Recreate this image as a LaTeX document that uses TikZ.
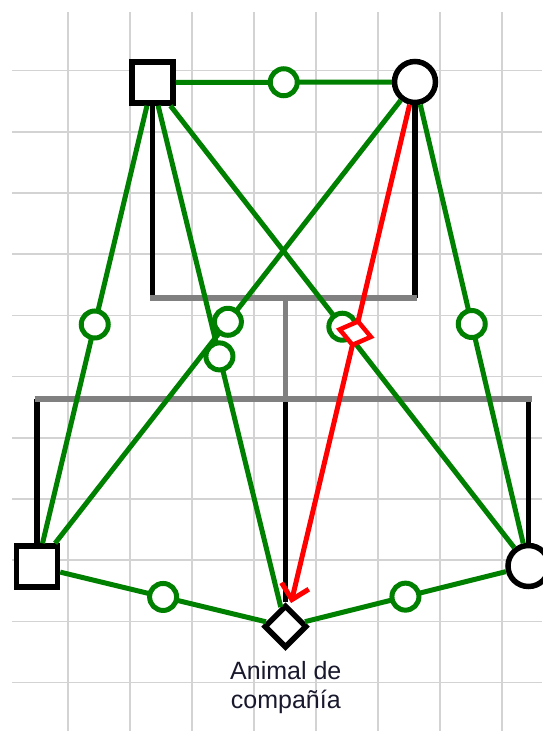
\documentclass[tikz,border=0pt]{standalone}
\usepackage{fontspec}
\setmainfont{Liberation Sans}
\usetikzlibrary{shapes.geometric,arrows.meta}
\definecolor{gline}{RGB}{0,128,0}
\definecolor{gridc}{RGB}{211,211,211}
\definecolor{famgray}{RGB}{128,128,128}
\definecolor{txtc}{RGB}{25,25,45}
\begin{document}
\begin{tikzpicture}[x=1pt,y=-1pt,
  male/.style={rectangle,draw=black,line width=5.5pt,fill=white,minimum size=41pt,inner sep=0pt},
  female/.style={circle,draw=black,line width=5.5pt,fill=white,minimum size=41pt,inner sep=0pt},
  pet/.style={diamond,draw=black,line width=5.5pt,fill=white,minimum size=43pt,inner sep=0pt},
  famline/.style={line width=5.5pt,black},
  sibline/.style={line width=5.5pt,famgray},
  emo/.style={line width=5pt,gline},
  emomark/.style={circle,draw=gline,line width=5pt,fill=white,minimum size=27pt,inner sep=0pt},
  hostile/.style={line width=5pt,red},
  hostmark/.style={diamond,draw=red,line width=4.5pt,fill=white,minimum width=26pt,minimum height=34pt,inner sep=0pt},
  gridln/.style={gridc,line width=1.6pt}]
\useasboundingbox (0,0) rectangle (542,731);
\fill[white] (0,0) rectangle (542,731);
% grid
\foreach \i in {0,...,7} \draw[gridln] ({68+62*\i},12) -- ({68+62*\i},731);
\foreach \j in {0,...,10} \draw[gridln] (12,{70.5+61.2*\j}) -- (542,{70.5+61.2*\j});
% persons
\node[male] (fa) at (152.5,82.5) {};
\node[female] (mo) at (415,82) {};
\node[male] (s1) at (37,566.5) {};
\node[female] (s2) at (528.5,566) {};
\node[pet] (pt) at (285.5,626.5) {};
\node[anchor=north,align=center,text=txtc,font=\fontsize{25}{29}\selectfont,inner sep=0pt] (lbl) at (285.8,661.5) {Animal de\\compañía};
% family lines
\coordinate (tbL) at (150,297.8);
\coordinate (tbR) at (417,297.8);
\coordinate (lbL) at (34.5,399);
\coordinate (lbR) at (531.5,399);
\draw[famline] (fa) -- (fa |- tbL);
\draw[famline] (mo) -- (mo |- tbL);
\draw[famline] (s1 |- lbL) -- (s1);
\draw[famline] (s2 |- lbL) -- (s2);
\draw[famline] (pt |- lbL) -- (pt);
\draw[sibline] (pt |- tbL) -- (pt |- lbL);
\draw[sibline] (tbL) -- (tbR);
\draw[sibline] (lbL) -- (lbR);
% emotional relations (green)
\draw[emo] (fa) -- coordinate[midway] (e1) (mo);
\draw[emo] (fa) -- coordinate[midway] (e2) (s1);
\draw[emo] (fa) -- coordinate[midway] (e3) (pt);
\draw[emo] (fa) -- coordinate[midway] (e4) (s2);
\draw[emo] (mo) -- coordinate[midway] (e5) (s1);
\draw[emo] (mo) -- coordinate[midway] (e6) (s2);
\draw[emo] (s1) -- coordinate[midway] (e7) (pt);
\draw[emo] (pt) -- coordinate[midway] (e8) (s2);
\node[emomark] (E1) at (e1) {};
\node[emomark] (E2) at (e2) {};
\node[emomark] (E3) at (e3) {};
\node[emomark] (E4) at (e4) {};
\node[emomark] (E5) at (e5) {};
\node[emomark] (E6) at (e6) {};
\node[emomark] (E7) at (e7) {};
\node[emomark] (E8) at (e8) {};
% hostile relation (red)
\draw[hostile,-{Straight Barb[length=14pt,width=28pt]},shorten >=4pt] (mo) -- node[hostmark,sloped,pos=0.455] (hm) {} (pt);
\end{tikzpicture}
\end{document}
